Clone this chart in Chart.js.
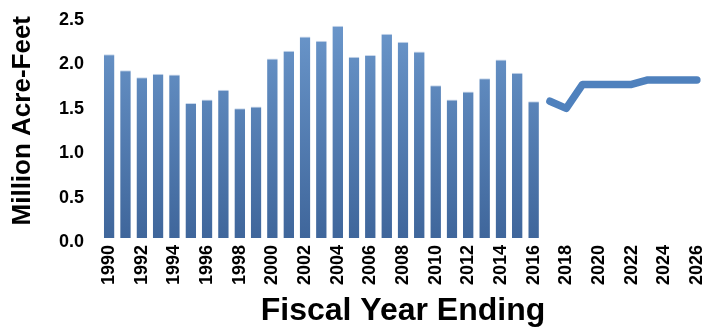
<!DOCTYPE html>
<html>
<head>
<meta charset="utf-8">
<script src="https://cdn.jsdelivr.net/npm/chart.js@4/dist/chart.umd.min.js"></script>
<style>
  html, body { margin: 0; padding: 0; background: #fff; overflow: hidden; }
  #wrap { width: 705px; height: 330px; }
</style>
</head>
<body>
<div id="wrap"><canvas id="chart"></canvas></div>
<script>
// years on the x axis
const years = [];
for (let y = 1990; y <= 2026; y++) years.push(String(y));

// historical deliveries (bars), 1990-2016
const actual = [2.07, 1.89, 1.81, 1.85, 1.84, 1.52, 1.56, 1.67, 1.46, 1.48,
  2.02, 2.11, 2.27, 2.22, 2.39, 2.04, 2.06, 2.30, 2.21, 2.10,
  1.72, 1.56, 1.65, 1.80, 2.01, 1.86, 1.54];

// projection (line), 2017-2026
const projected = [1.54, 1.46, 1.73, 1.73, 1.73, 1.73, 1.78, 1.78, 1.78, 1.78];

const yTicks = [0, 0.5, 1.0, 1.5, 2.0, 2.5];

const barData = actual.concat(projected.map(() => null));
const lineData = actual.map(() => null).concat(projected);

function barFill(context) {
  const chart = context.chart;
  const area = chart.chartArea;
  if (!area) return "#5a84b8";
  const g = chart.ctx.createLinearGradient(0, area.top, 0, area.bottom);
  g.addColorStop(0, "#6c98cc");
  g.addColorStop(1, "#3f669b");
  return g;
}

const ctx = document.getElementById("chart").getContext("2d");
new Chart(ctx, {
  data: {
    labels: years,
    datasets: [
      {
        type: "bar",
        data: barData,
        backgroundColor: barFill,
        borderColor: "#c9d8ec",
        borderWidth: { top: 1, left: 0, right: 0, bottom: 0 },
        borderSkipped: "bottom",
        barPercentage: 0.65,
        categoryPercentage: 1.0,
        order: 2,
      },
      {
        type: "line",
        data: lineData,
        borderColor: "#4f81bd",
        borderWidth: 7.5,
        borderCapStyle: "round",
        borderJoinStyle: "round",
        pointRadius: 0,
        tension: 0,
        spanGaps: false,
        order: 1,
      },
    ],
  },
  options: {
    responsive: true,
    maintainAspectRatio: false,
    animation: false,
    layout: { padding: { top: 16, left: 0, right: 0, bottom: 0 } },
    plugins: { legend: { display: false }, tooltip: { enabled: false } },
    scales: {
      x: {
        afterFit: function (scale) {
          scale.height = 92;
          scale.paddingLeft = 0;
          scale.paddingRight = 0;
        },
        grid: { display: false, drawTicks: false },
        border: { display: false },
        ticks: {
          autoSkip: false,
          minRotation: 90,
          maxRotation: 90,
          padding: 7,
          color: "#000",
          font: { family: "Liberation Sans, Arial", size: 18, weight: "bold" },
          callback: function (val, i) {
            const y = parseInt(years[i]);
            return y % 2 === 0 ? years[i] : "";
          },
        },
        title: {
          display: true,
          text: "Fiscal Year Ending",
          color: "#000",
          font: { family: "Liberation Sans, Arial", size: 32, weight: "bold" },
          padding: { top: 0, bottom: 0 },
        },
      },
      y: {
        min: 0,
        max: 2.5,
        afterFit: function (scale) {
          scale.width = 101;
          scale.paddingTop = 0;
          scale.paddingBottom = 0;
        },
        afterBuildTicks: function (scale) {
          scale.ticks = yTicks.map((v) => ({ value: v }));
        },
        grid: { display: false, drawTicks: false },
        border: { display: false },
        ticks: {
          padding: 17,
          color: "#000",
          // blank first line nudges the label a few px below its tick, as in the original
          font: { family: "Liberation Sans, Arial", size: 18, weight: "bold", lineHeight: "8px" },
          callback: (v) => ["", v.toFixed(1)],
        },
        title: {
          display: true,
          text: "Million Acre-Feet",
          align: "end",
          color: "#000",
          font: { family: "Liberation Sans, Arial", size: 26, weight: "bold" },
          padding: { top: 7, bottom: 0 },
        },
      },
    },
  },
});
</script>
</body>
</html>
